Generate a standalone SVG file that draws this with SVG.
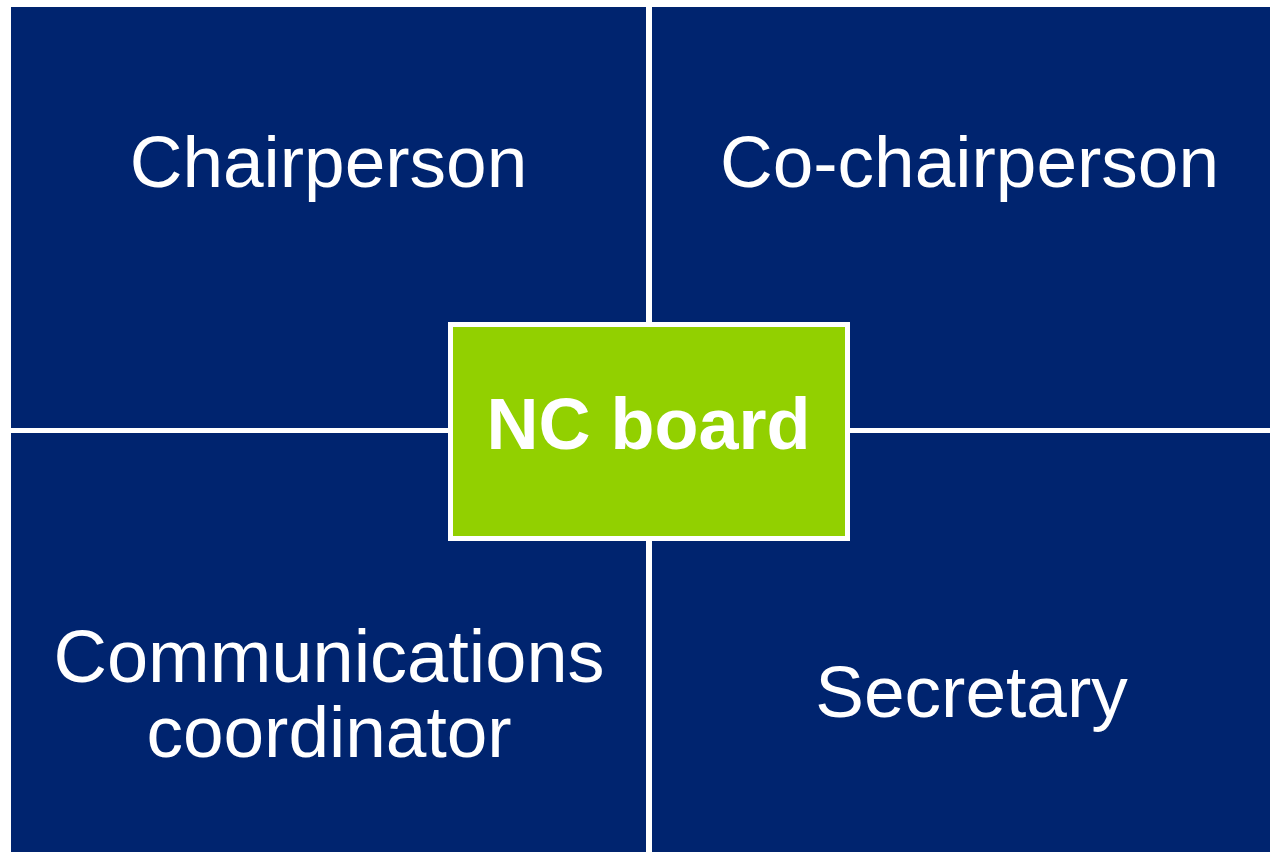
<svg xmlns="http://www.w3.org/2000/svg" width="1270" height="852" viewBox="0 0 1270 852">
  <style>
    .quad { fill: #00246F; }
    .role { font-family: "Liberation Sans", Arial, sans-serif; font-size: 73px; fill: #FFFFFF; text-anchor: middle; }
    .hub { fill: #92D000; stroke: #FFFFFF; stroke-width: 5; }
    .hub-label { font-family: "Liberation Sans", Arial, sans-serif; font-size: 72px; font-weight: bold; fill: #FFFFFF; text-anchor: middle; }
  </style>
  <rect width="1270" height="852" fill="#FFFFFF"/>
  <g id="chairperson">
    <rect class="quad" x="11" y="7" width="635" height="421"/>
    <text class="role" x="328.5" y="187">Chairperson</text>
  </g>
  <g id="co-chairperson">
    <rect class="quad" x="652" y="7" width="618" height="421"/>
    <text class="role" x="969.5" y="187">Co-chairperson</text>
  </g>
  <g id="communications-coordinator">
    <rect class="quad" x="11" y="433" width="635" height="419"/>
    <text class="role" x="329" y="682" style="font-size:74px">Communications</text>
    <text class="role" x="329" y="757">coordinator</text>
  </g>
  <g id="secretary">
    <rect class="quad" x="652" y="433" width="618" height="419"/>
    <text class="role" x="971.5" y="717">Secretary</text>
  </g>
  <g id="connectors"></g>
  <g id="nc-board">
    <rect class="hub" x="450.5" y="324.5" width="397" height="214"/>
    <text class="hub-label" x="648.5" y="449">NC board</text>
  </g>
</svg>
